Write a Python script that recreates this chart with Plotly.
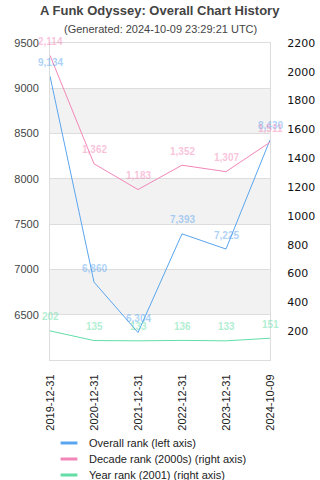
import plotly.graph_objects as go

dates = ["2019-12-31", "2020-12-31", "2021-12-31", "2022-12-31", "2023-12-31", "2024-10-09"]
overall_rank = [9134, 6860, 6304, 7393, 7225, 8430]
decade_rank = [2114, 1362, 1183, 1352, 1307, 1511]
year_rank = [202, 135, 133, 136, 133, 151]

left_ticks = [6500, 7000, 7500, 8000, 8500, 9000, 9500]
right_ticks = [200, 400, 600, 800, 1000, 1200, 1400, 1600, 1800, 2000, 2200]
bands = [(8500, 9000), (7500, 8000), (6500, 7000)]

title = "A Funk Odyssey: Overall Chart History"
subtitle = "(Generated: 2024-10-09 23:29:21 UTC)"

BLUE = "#5aa5ef"
PINK = "#f386b8"
GREEN = "#62dea6"
BLUE_L = "rgba(90,165,239,0.5)"
PINK_L = "rgba(243,134,184,0.5)"
GREEN_L = "rgba(98,222,166,0.5)"

series = [
    ("Overall rank (left axis)", overall_rank, "y", BLUE, BLUE_L),
    ("Decade rank (2000s) (right axis)", decade_rank, "y2", PINK, PINK_L),
    ("Year rank (2001) (right axis)", year_rank, "y2", GREEN, GREEN_L),
]

W, H = 320, 480
legend_rows = [443, 459, 475]
legend_names = ["legend", "legend2", "legend3"]

fig = go.Figure()
annotations = []
for name, vals, yax, col, lcol in series:
    fig.add_trace(go.Scatter(x=dates, y=vals, yaxis=yax, mode="lines",
                             line=dict(color=col, width=1), showlegend=False,
                             hoverinfo="x+y"))
    for d, v in zip(dates, vals):
        annotations.append(dict(x=d, y=v, xref="x", yref=yax, text=f"<b>{v:,}</b>",
                                showarrow=False, yshift=14,
                                font=dict(family="Liberation Sans", size=10, color=lcol)))

# legend entries (short line swatches), one legend per row
for (name, vals, yax, col, lcol), lg in zip(series, legend_names):
    fig.add_trace(go.Scatter(x=[None], y=[None], yaxis=yax, mode="markers", name=name,
                             legend=lg,
                             marker=dict(symbol="line-ew", size=12, line=dict(color=col, width=3)),
                             showlegend=True))

shapes = [dict(type="rect", xref="paper", x0=0, x1=1, yref="y", y0=a, y1=b,
               fillcolor="#f2f2f2", line=dict(width=0), layer="below") for a, b in bands]

annotations.append(dict(xref="paper", yref="paper", x=0.5, y=1, yshift=33, yanchor="middle",
                        text=f"<b>{title}</b>", showarrow=False,
                        font=dict(family="Liberation Sans", size=13, color="#444")))
annotations.append(dict(xref="paper", yref="paper", x=0.5, y=1, yshift=14, yanchor="middle",
                        text=subtitle, showarrow=False,
                        font=dict(family="Liberation Sans", size=11, color="#444")))

legend_common = dict(xref="container", yref="container", xanchor="left", yanchor="middle",
                     font=dict(family="Liberation Sans", size=11, color="#222"),
                     bgcolor="rgba(0,0,0,0)")
legends = {}
for lg, row in zip(legend_names, legend_rows):
    legends[lg] = dict(x=49 / W, y=1 - row / H, **legend_common)

fig.update_layout(
    width=W, height=H,
    margin=dict(l=50, r=50, t=43, b=120, autoexpand=False),
    paper_bgcolor="white", plot_bgcolor="white",
    shapes=shapes, annotations=annotations,
    showlegend=True,
    xaxis=dict(type="category", range=[0, 5], showgrid=False, zeroline=False, automargin=False,
               showline=True, linecolor="#ddd", linewidth=1, mirror=True,
               tickangle=-90, ticks="outside", ticklen=9, tickcolor="rgba(0,0,0,0)",
               tickfont=dict(family="Liberation Sans", size=11, color="#222")),
    yaxis=dict(range=[6000, 9500], tickvals=left_ticks, ticktext=[str(t) for t in left_ticks],
               showgrid=True, gridcolor="#ddd", gridwidth=1, zeroline=False, automargin=False,
               showline=True, linecolor="#ddd", linewidth=1, mirror=True,
               ticks="outside", ticklen=8, tickcolor="rgba(0,0,0,0)",
               tickfont=dict(family="Liberation Sans", size=11, color="#444")),
    yaxis2=dict(range=[0, 2200], tickvals=right_ticks, ticktext=[str(t) for t in right_ticks],
                overlaying="y", side="right", showgrid=False, zeroline=False, automargin=False,
                showline=False, ticks="outside", ticklen=14, tickcolor="rgba(0,0,0,0)",
                tickfont=dict(family="DejaVu Sans", size=11, color="#111")),
    **legends,
)

fig.write_html("out.html", config={"displayModeBar": False},
               post_script="document.body.style.margin='0';document.body.style.overflow='hidden';")
